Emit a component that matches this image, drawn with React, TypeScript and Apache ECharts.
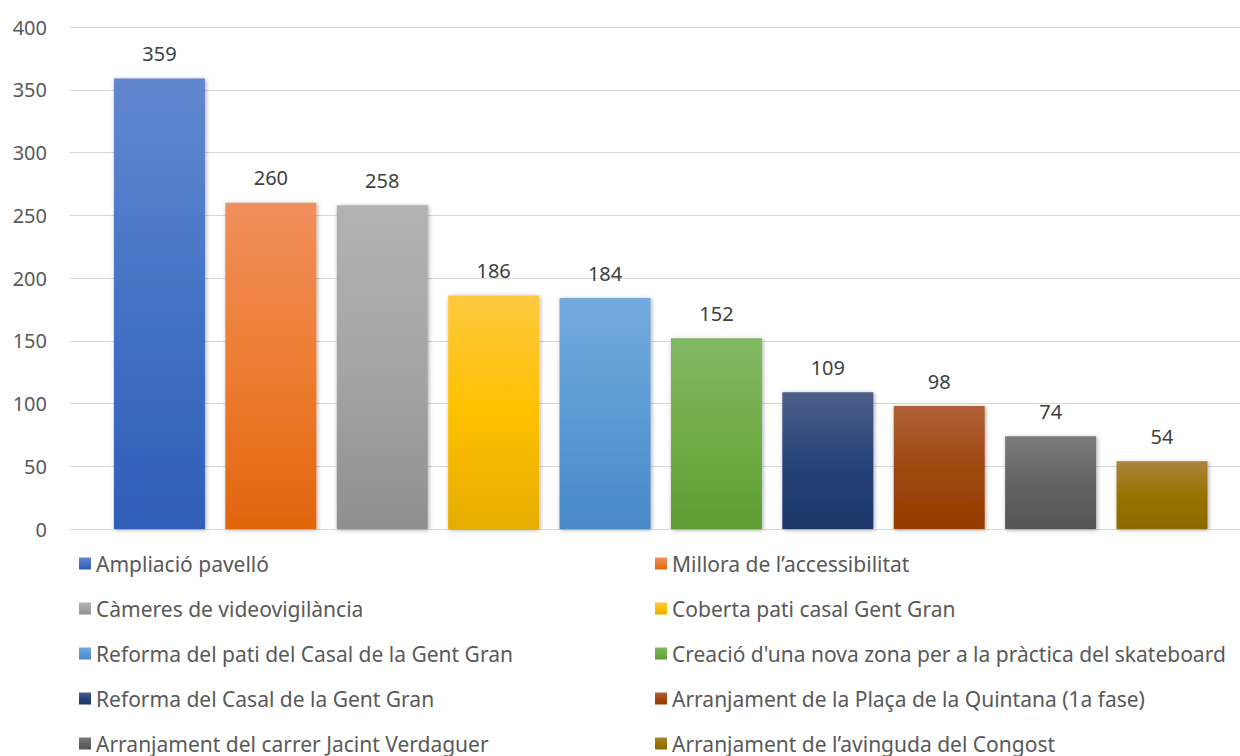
import React, { useEffect, useRef } from "react";
import * as echarts from "echarts";

const names = [
  "Ampliació pavelló",
  "Millora de l’accessibilitat",
  "Càmeres de videovigilància",
  "Coberta pati casal Gent Gran",
  "Reforma del pati del Casal de la Gent Gran",
  "Creació d'una nova zona per a la pràctica del skateboard",
  "Reforma del Casal de la Gent Gran",
  "Arranjament de la Plaça de la Quintana (1a fase)",
  "Arranjament del carrer Jacint Verdaguer",
  "Arranjament de l’avinguda del Congost",
];
const positions = [1, 2, 3, 4, 5, 6, 7, 8, 9, 10];
const values = [359, 260, 258, 186, 184, 152, 109, 98, 74, 54];
const topColors = ["#6287d0", "#f08e5c", "#b2b2b2", "#ffc93f", "#74aadd", "#82b865", "#4d5e88", "#b0603a", "#7c7c7c", "#a8843c"];
const midColors = ["#4472c4", "#ed7d31", "#a5a5a5", "#ffc000", "#5b9bd5", "#70ad47", "#264478", "#9e480e", "#636363", "#997300"];
const bottomColors = ["#2f5eb8", "#e2650f", "#8f8f8f", "#e6ad00", "#4688c8", "#5d9c32", "#1b3668", "#933d00", "#555555", "#8c6a00"];
const yTicks = { min: 0, max: 400, interval: 50 };
const xRange = { min: 0.197, max: 10.7 };

export default function App() {
  const ref = useRef<HTMLDivElement>(null);
  useEffect(() => {
    const chart = echarts.init(ref.current!, null, { renderer: "svg" });
    const font = "'Noto Sans', sans-serif";
    const series = names.map((n, i) => ({
      name: n,
      type: "bar",
      data: [[positions[i], values[i]]],
      barWidth: 91,
      barGap: "-100%",
      itemStyle: {
        color: new echarts.graphic.LinearGradient(0, 0, 0, 1, [
          { offset: 0, color: topColors[i] },
          { offset: 0.5, color: midColors[i] },
          { offset: 1, color: bottomColors[i] },
        ]),
        shadowBlur: 4,
        shadowColor: "rgba(0,0,0,0.35)",
        shadowOffsetX: 1,
        shadowOffsetY: 1,
      },
      label: {
        show: true,
        position: "top",
        distance: 15,
        color: "#404040",
        fontSize: 20,
        fontFamily: font,
        formatter: (p: any) => String(p.value[1]),
      },
    }));
    const legendCommon = {
      orient: "vertical",
      itemWidth: 12,
      itemHeight: 12,
      itemGap: 24,
      icon: "rect",
      top: 553,
      padding: 0,
      textStyle: { color: "#595959", fontSize: 21, fontFamily: font, lineHeight: 21 },
    };
    chart.setOption({
      animation: false,
      backgroundColor: "#ffffff",
      grid: { left: 70, right: 0, top: 27, bottom: 227 },
      legend: [
        { ...legendCommon, left: 79, data: names.filter((_, i) => i % 2 === 0) },
        { ...legendCommon, left: 655, data: names.filter((_, i) => i % 2 === 1) },
      ],
      xAxis: {
        type: "value",
        ...xRange,
        axisLine: { show: true, onZero: false, lineStyle: { color: "#d9d9d9", width: 1 } },
        axisTick: { show: false },
        axisLabel: { show: false },
        splitLine: { show: false },
      },
      yAxis: {
        type: "value",
        ...yTicks,
        axisLine: { show: false },
        axisTick: { show: false },
        axisLabel: { color: "#595959", fontSize: 20, fontFamily: font, margin: 23 },
        splitLine: { lineStyle: { color: "#d9d9d9", width: 1 } },
      },
      series,
    });
    return () => chart.dispose();
  }, []);
  return (
    <div
      ref={ref}
      style={{ position: "fixed", left: 0, top: 0, width: 1240, height: 756 }}
    />
  );
}
